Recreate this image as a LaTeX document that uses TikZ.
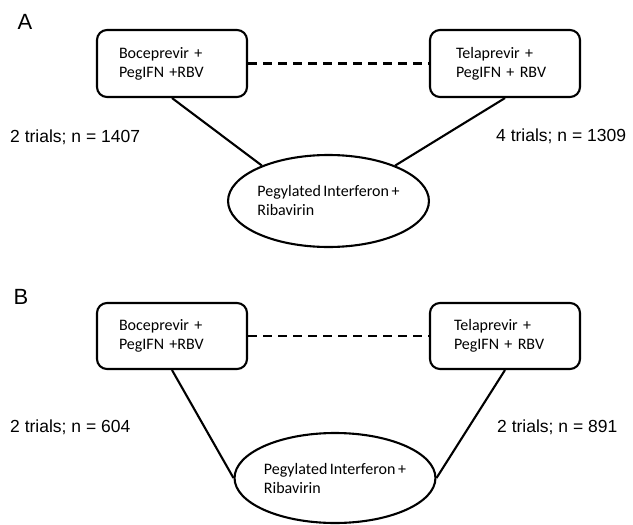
\documentclass[tikz,border=0pt]{standalone}
\usepackage{fontspec}
\usetikzlibrary{shapes.geometric}
\newfontfamily\labfont{Liberation Sans}
\newfontfamily\drugfont[WordSpace=0.7]{Carlito}
\begin{document}
\begin{tikzpicture}[x=1pt,y=1pt,
  conn/.style={line width=2.1pt},
  drug/.style={draw, line width=2.1pt, rounded corners=10pt, minimum width=150pt,
    minimum height=67pt, inner xsep=22pt, text width=106pt, align=left,
    font=\drugfont\fontsize{16}{19}\selectfont},
  regimen/.style={draw, ellipse, line width=2.1pt, inner sep=0pt, align=left,
    font=\drugfont\fontsize{16}{19}\selectfont},
  trial/.style={anchor=west, inner sep=0pt, font=\labfont\fontsize{17.5}{20}\selectfont},
  panel/.style={inner sep=0pt, font=\labfont\fontsize{22}{24}\selectfont}]
\useasboundingbox (0,0) rectangle (633,-525);
% Panel A
\node[panel] (pA) at (25,-22) {A};
\node[drug] (bA) at (172,-63.5) {Boceprevir +\\PegIFN +RBV};
\node[drug, inner xsep=26pt, text width=98pt] (tA) at (505,-63.5) {Telaprevir +\\PegIFN + RBV};
\node[regimen, minimum width=177pt, minimum height=92pt] (eA) at (328.5,-201) {Pegylated Interferon +\\Ribavirin};
\draw[conn, dash pattern=on 9pt off 6pt] (bA.east) -- (tA.west);
\draw[conn] (bA.south) -- (eA.152);
\draw[conn] (tA.south) -- (eA.28);
\node[trial] (lA1) at (10,-137) {2 trials; n = 1407};
\node[trial] (lA2) at (496,-136) {4 trials; n = 1309};
% Panel B
\node[panel] (pB) at (21,-297) {B};
\node[drug, minimum height=66pt] (bB) at (172,-336) {Boceprevir +\\PegIFN +RBV};
\node[drug, minimum height=66pt, inner xsep=24pt, text width=102pt] (tB) at (505,-336) {Telaprevir +\\PegIFN + RBV};
\node[regimen, minimum width=180pt, minimum height=90pt] (eB) at (335,-478) {Pegylated Interferon +\\Ribavirin};
\draw[conn, dash pattern=on 9pt off 6pt] (bB.east) -- (tB.west);
\draw[conn] (bB.south) -- (eB.west);
\draw[conn] (tB.south) -- (eB.east);
\node[trial] (lB1) at (10,-427) {2 trials; n = 604};
\node[trial] (lB2) at (497,-427) {2 trials; n = 891};
\end{tikzpicture}
\end{document}
